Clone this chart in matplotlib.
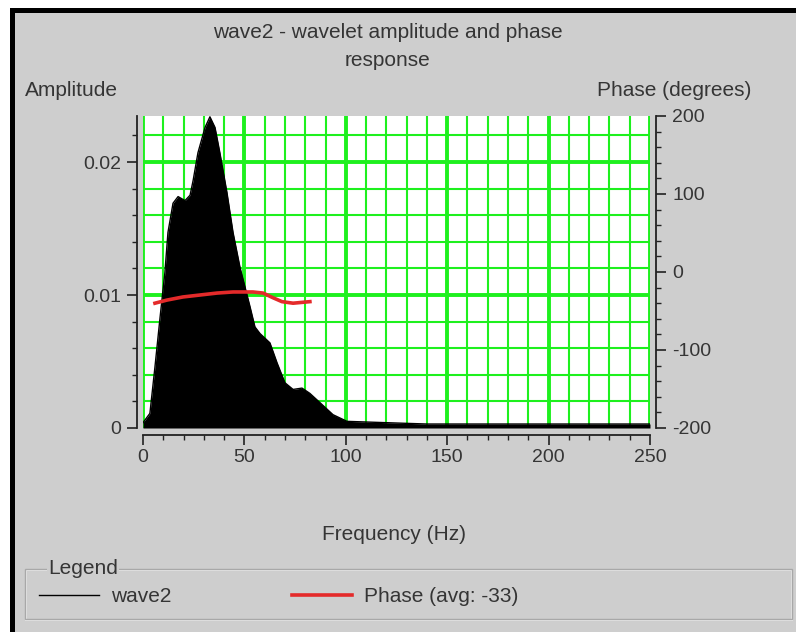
import numpy as np
import matplotlib
matplotlib.use("Agg")
import matplotlib.pyplot as plt
from matplotlib.patches import Rectangle
from matplotlib.ticker import MultipleLocator

plt.rcParams['font.family'] = ['Liberation Sans', 'DejaVu Sans']
plt.rcParams['axes.unicode_minus'] = False

# Amplitude spectrum
freq = [0, 3.4, 5.9, 8.4, 10.8, 12.3, 14.8, 17.3, 20.7, 23.2, 24.7, 27.1, 30.6,
        33.0, 35.5, 37.9, 41.4, 44.4, 47.8, 50.3, 52.8, 55.2, 57.7, 62.6, 66.1,
        70.0, 74.0, 78.4, 82.3, 87.3, 93.7, 100.6, 120, 140, 160, 180, 200,
        220, 240, 250]
amp = [0.0004, 0.0011, 0.0046, 0.0083, 0.0117, 0.0147, 0.0169, 0.0174, 0.0171,
       0.0175, 0.0186, 0.0207, 0.0226, 0.0234, 0.0226, 0.0207, 0.0177, 0.0147,
       0.0121, 0.0106, 0.0091, 0.0076, 0.0071, 0.0064, 0.0049, 0.0034, 0.0029,
       0.0030, 0.0026, 0.0019, 0.0010, 0.0005, 0.0004, 0.0003, 0.0003, 0.0003,
       0.0003, 0.0003, 0.0003, 0.0003]

# Phase curve
phase_freq = [5.9, 11.8, 19.7, 28.1, 36.5, 44.4, 54.2, 59.2, 64.1, 68.5, 74.0, 82.3]
phase_deg = [-40, -36, -32, -29.5, -27, -25.6, -25.6, -27, -33, -38, -40, -38]

bg = '#cecece'
txt = '#353535'
green = '#1ef01e'
fs = 15
tfs = 14

W, H = 796, 632
fig = plt.figure(figsize=(W / 100, H / 100), dpi=100, facecolor=bg)

def fx(px):
    return px / W

def fy(py):
    return 1 - py / H

# frame of the window
fig.patches.append(Rectangle((0, 0), 1, 1, transform=fig.transFigure,
                             facecolor='white', edgecolor='none', zorder=-3))
fig.patches.append(Rectangle((fx(10), 0), 1, fy(8), transform=fig.transFigure,
                             facecolor='black', edgecolor='none', zorder=-2))
fig.patches.append(Rectangle((fx(15), 0), 1, fy(13), transform=fig.transFigure,
                             facecolor=bg, edgecolor='none', zorder=-1))

ax = fig.add_axes([fx(143), fy(428), fx(650 - 143), (428 - 116) / H])
ax.set_facecolor('white')
ax.fill_between(freq, amp, 0, color='black', lw=0)
l1, = ax.plot(freq, amp, color='black', lw=1, label='wave2')
ax.set_xlim(0, 250)
ax.set_ylim(0, 0.02346)

ax.xaxis.set_major_locator(MultipleLocator(50))
ax.xaxis.set_minor_locator(MultipleLocator(10))
ax.yaxis.set_major_locator(MultipleLocator(0.01))
ax.yaxis.set_minor_locator(MultipleLocator(0.002))
ax.yaxis.set_major_formatter(plt.FuncFormatter(lambda v, p: '0' if v == 0 else f'{v:.2f}'))
ax.grid(True, which='major', color=green, lw=2.8)
ax.grid(True, which='minor', color=green, lw=1.5)
ax.set_axisbelow(True)

ax2 = ax.twinx()
ax2.plot(phase_freq, phase_deg, color='#ecd6d6', lw=1.2, zorder=2)
l2, = ax2.plot(phase_freq, phase_deg, color='#e42a2a', lw=2.6, label='Phase (avg: -33)')
ax2.set_ylim(-200, 200)
ax2.yaxis.set_major_locator(MultipleLocator(100))
ax2.yaxis.set_minor_locator(MultipleLocator(20))

for a in (ax, ax2):
    for s in a.spines.values():
        s.set_visible(False)
    a.tick_params(which='major', length=7, width=1.2, color='#222222',
                  labelsize=tfs, labelcolor=txt, pad=5)
    a.tick_params(which='minor', length=3.5, width=1, color='#222222')
ax.tick_params(axis='x', pad=3)
ax.spines['left'].set_visible(True)
ax.spines['bottom'].set_visible(True)
ax.spines['left'].set_position(('outward', 4))
ax.spines['bottom'].set_position(('outward', 5))
ax2.spines['right'].set_visible(True)
ax2.spines['right'].set_position(('outward', 4))
for s in (ax.spines['left'], ax.spines['bottom'], ax2.spines['right']):
    s.set_color('#222222')
    s.set_linewidth(1.3)

# texts
fig.text(fx(388), fy(33), 'wave2 - wavelet amplitude and phase', ha='center',
         va='center', fontsize=fs, color=txt)
fig.text(fx(388), fy(60), 'response', ha='center', va='center', fontsize=fs, color=txt)
fig.text(fx(25), fy(90), 'Amplitude', ha='left', va='center', fontsize=fs, color=txt)
fig.text(fx(751), fy(90), 'Phase (degrees)', ha='right', va='center', fontsize=fs, color=txt)
fig.text(fx(394), fy(535), 'Frequency (Hz)', ha='center', va='center', fontsize=fs, color=txt)

# legend group box
fig.patches.append(Rectangle((fx(26), fy(620)), fx(792 - 26), (620 - 570) / H,
                             transform=fig.transFigure, facecolor='none',
                             edgecolor='#f2f2f2', lw=1.2, zorder=1))
fig.patches.append(Rectangle((fx(25), fy(619)), fx(792 - 25), (619 - 569) / H,
                             transform=fig.transFigure, facecolor='none',
                             edgecolor='#a8a8a8', lw=1.0, zorder=1))
fig.text(fx(48), fy(568), 'Legend', ha='left', va='center', fontsize=fs, color=txt,
         bbox=dict(facecolor=bg, edgecolor='none', pad=1), zorder=3)
fig.legend([l1, l2], ['wave2', 'Phase (avg: -33)'], loc='center left',
           bbox_to_anchor=(fx(20), fy(597)), ncol=2, frameon=False,
           fontsize=fs, labelcolor=txt, handlelength=2.9, handletextpad=0.55,
           columnspacing=5.8)

fig.savefig('out.png', dpi=100, facecolor=bg)
